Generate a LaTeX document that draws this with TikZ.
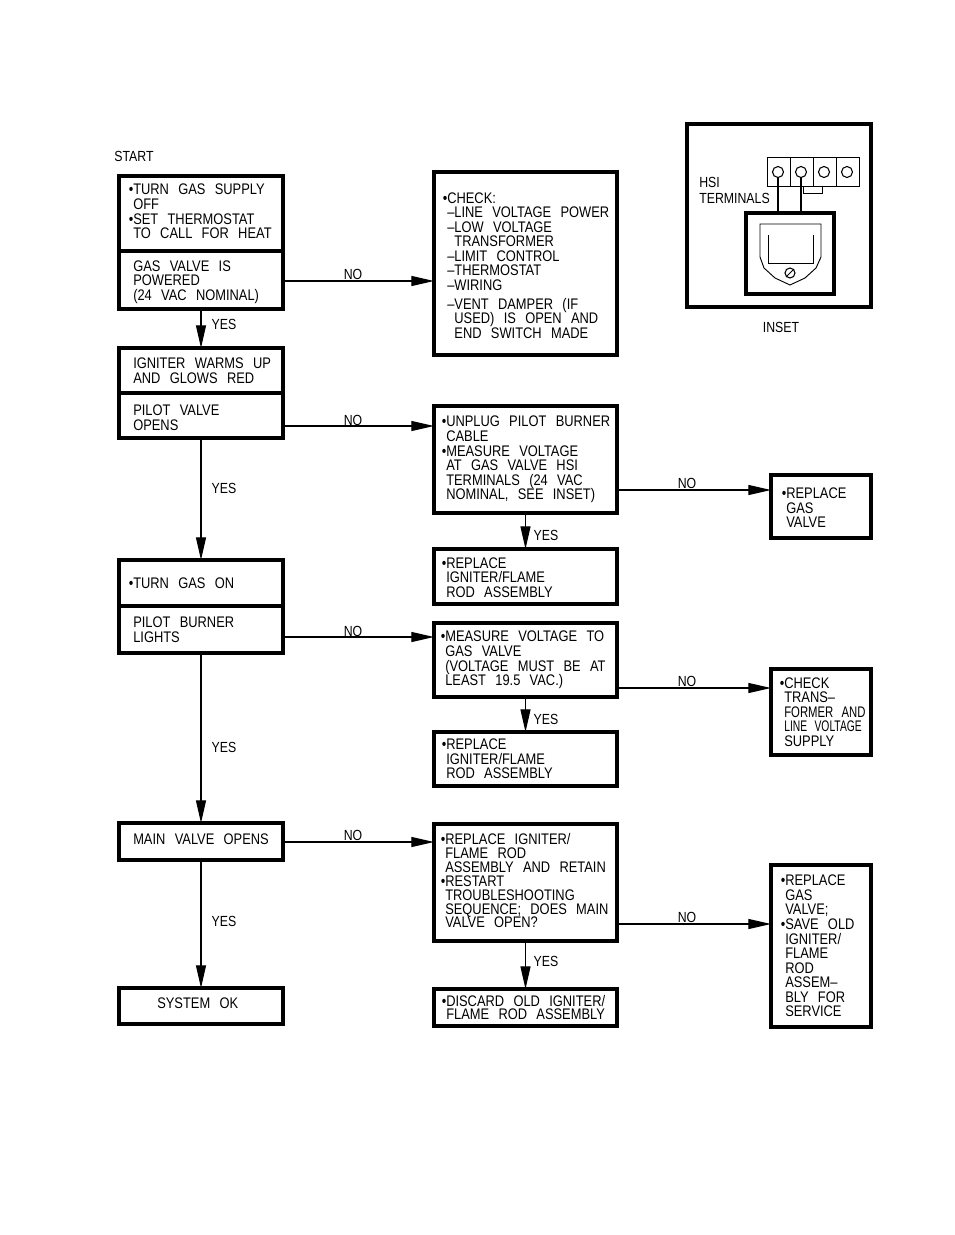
\documentclass[tikz,border=0pt]{standalone}
\usepackage{fontspec}
\usepackage{graphicx}
\setmainfont[FakeStretch=0.84,WordSpace=2.6]{Liberation Sans}
\usetikzlibrary{arrows.meta}
\def\px{0.75pt}
\newcommand{\bul}{\llap{\textbullet}}
\tikzset{%
  flowbox/.style   = {draw, line width=2.3pt, anchor=north west, outer sep=0pt},%
  boxtext/.style   = {anchor=west, inner sep=0pt, align=left,%
                      font=\fontsize{11.5}{10.9}\selectfont},%
  flowlabel/.style = {inner sep=0pt, font=\fontsize{11}{12}\selectfont},%
  flowarrow/.style = {line width=0.9pt, -{Triangle[length=17pt,width=7.5pt]}},%
  termbox/.style   = {draw, line width=0.7pt, minimum width=23*\px, minimum height=29*\px, outer sep=0pt},%
  hsipin/.style    = {circle, draw, line width=0.8pt, minimum size=11*\px, inner sep=0pt, fill=white}%
}
% text options, name, left, top, width, height, text offset, text
\newcommand{\flowbox}[8][]{%
  \node[flowbox, minimum width=#5*\px, minimum height=#6*\px] (#2) at (#3,#4) {};
  \node[boxtext, xshift=#7*\px, #1] (#2text) at (#2.west) {#8};}
\begin{document}
\begin{tikzpicture}[x=0.75pt,y=-0.75pt]
	\useasboundingbox (0,0) rectangle (954,1235);
	% left column
	\flowbox[yshift=1.5pt]{gasoff}{119}{176}{164}{75}{14}{\bul TURN GAS SUPPLY\\OFF\\\bul SET THERMOSTAT\\TO CALL FOR HEAT}
	\flowbox[yshift=-1.5pt]{powered}{119}{251}{164}{58}{14}{GAS VALVE IS\\POWERED\\(24 VAC NOMINAL)}
	\flowbox{igniter}{119}{348}{164}{45}{14}{IGNITER WARMS UP\\AND GLOWS RED}
	\flowbox[yshift=-1.5pt]{pilot}{119}{393}{164}{45}{14}{PILOT VALVE\\OPENS}
	\flowbox{gason}{119}{560}{164}{46}{14}{\bul TURN GAS ON}
	\flowbox{lights}{119}{606}{164}{47}{14}{PILOT BURNER\\LIGHTS}
	\flowbox[yshift=1.5pt]{mainv}{119}{823}{164}{37}{14}{MAIN VALVE OPENS}
	\flowbox[yshift=2.2pt]{sysok}{119}{988}{164}{36}{38}{SYSTEM OK}
	% middle column
	\flowbox[yshift=-1.5pt]{check}{434}{172}{183}{183}{13}{\bul CHECK:\\--LINE VOLTAGE POWER\\--LOW VOLTAGE\\\phantom{--}TRANSFORMER\\--LIMIT CONTROL\\--THERMOSTAT\\--WIRING\\[3.5pt]--VENT DAMPER (IF\\\phantom{--}USED) IS OPEN AND\\\phantom{--}END SWITCH MADE}
	\flowbox{unplug}{434}{406}{183}{107}{12}{\bul UNPLUG PILOT BURNER\\CABLE\\\bul MEASURE VOLTAGE\\AT GAS VALVE HSI\\TERMINALS (24 VAC\\NOMINAL, SEE INSET)}
	\flowbox[yshift=-0.7pt]{replacea}{434}{549}{183}{55}{12}{\bul REPLACE\\IGNITER/FLAME\\ROD ASSEMBLY}
	\flowbox{measure}{434}{623}{183}{74}{11}{\bul MEASURE VOLTAGE TO\\GAS VALVE\\(VOLTAGE MUST BE AT\\LEAST 19.5 VAC.)}
	\flowbox{replaceb}{434}{732}{183}{54}{12}{\bul REPLACE\\IGNITER/FLAME\\ROD ASSEMBLY}
	\flowbox[font=\fontsize{11.5}{10.4}\selectfont,yshift=1.2pt]{retain}{434}{824}{183}{117}{11}{\bul REPLACE IGNITER/\\FLAME ROD\\ASSEMBLY AND RETAIN\\\bul RESTART\\TROUBLESHOOTING\\SEQUENCE; DOES MAIN\\VALVE OPEN?}
	\flowbox[font=\fontsize{11.5}{10}\selectfont]{discard}{434}{989}{183}{37}{12}{\bul DISCARD OLD IGNITER/\\FLAME ROD ASSEMBLY}
	% right column
	\flowbox[yshift=-1pt]{valvea}{771}{475}{100}{63}{15}{\bul REPLACE\\GAS\\VALVE}
	\flowbox{trans}{771}{669}{100}{86}{13}{\bul CHECK\\TRANS--\\\scalebox{0.88}[1]{FORMER AND}\\\scalebox{0.8}[1]{LINE VOLTAGE}\\SUPPLY}
	\flowbox{valveb}{771}{865}{100}{162}{14}{\bul REPLACE\\GAS\\VALVE;\\\bul SAVE OLD\\IGNITER/\\FLAME\\ROD\\ASSEM--\\BLY FOR\\SERVICE}
	% arrows, the NO ones leave at their own height
	\coordinate (checkin) at (434,281);
	\coordinate (unplugin) at (434,426);
	\coordinate (measurein) at (434,637);
	\coordinate (retainin) at (434,842);
	\coordinate (valveain) at (771,490);
	\coordinate (transin) at (771,688);
	\coordinate (valvebin) at (771,924);
	\draw[flowarrow] (powered.south) -- (igniter.north);
	\draw[flowarrow] (pilot.south) -- (gason.north);
	\draw[flowarrow] (lights.south) -- (mainv.north);
	\draw[flowarrow] (mainv.south) -- (sysok.north);
	\draw[flowarrow] (unplug.south) -- (replacea.north);
	\draw[flowarrow] (measure.south) -- (replaceb.north);
	\draw[flowarrow] (retain.south) -- (discard.north);
	\draw[flowarrow] (powered.east |- checkin) -- (checkin);
	\draw[flowarrow] (pilot.east |- unplugin) -- (unplugin);
	\draw[flowarrow] (lights.east |- measurein) -- (measurein);
	\draw[flowarrow] (mainv.east |- retainin) -- (retainin);
	\draw[flowarrow] (unplug.east |- valveain) -- (valveain);
	\draw[flowarrow] (measure.east |- transin) -- (transin);
	\draw[flowarrow] (retain.east |- valvebin) -- (valvebin);
	% labels
	\node[flowlabel] (start) at (134,156) {START};
	\foreach \n/\x/\y in {noa/353/274,nob/353/420,noc/353/631,nod/353/835,noe/687/483,nof/687/681,nog/687/917}
		\node[flowlabel] (\n) at (\x,\y) {NO};
	\foreach \n/\x/\y in {yesa/224/324,yesb/224/488,yesc/224/747,yesd/224/921,yese/546/535,yesf/546/719,yesg/546/961}
		\node[flowlabel] (\n) at (\x,\y) {YES};
	% inset
	\node[draw, line width=3pt, anchor=north west, outer sep=0pt, minimum width=184*\px, minimum height=183*\px] (inset) at (687,124) {};
	\node[flowlabel] (insetname) at (781,327) {INSET};
	\node[flowlabel, anchor=west, align=left] (hsi) at (699,190) {HSI\\TERMINALS};
	\node[draw, line width=2.5pt, anchor=north west, outer sep=0pt, minimum width=88*\px, minimum height=81*\px] (device) at (746,213) {};
	\foreach \n/\x in {ta/778.5,tb/801.5,tc/824.5,td/847.5}
		\node[termbox] (\n box) at (\x,171.5) {};
	\draw[line width=0.7pt] (803,186) -- (803,193) -- (822,193) -- (822,186);
	\foreach \n/\x in {ta/778,tb/801,tc/824,td/847}
		\node[hsipin] (\n) at (\x,172) {};
	\draw[line width=0.9pt] (ta) -- (ta |- device.north);
	\draw[line width=0.9pt] (tb) -- (tb |- device.north);
	% valve body and screw
	\draw[line width=0.7pt] (760,224) -- (821,224) -- (821,257) -- (816,268) -- (805,278) -- (790,285) -- (775,278) -- (764,268) -- (760,257) -- cycle;
	\draw[line width=0.7pt] (768,235) -- (768,263) -- (813,263) -- (813,235);
	\node[hsipin, minimum size=10*\px] (screw) at (790,273) {};
	\draw[line width=0.7pt] (screw.south west) -- (screw.north east);
\end{tikzpicture}
\end{document}
